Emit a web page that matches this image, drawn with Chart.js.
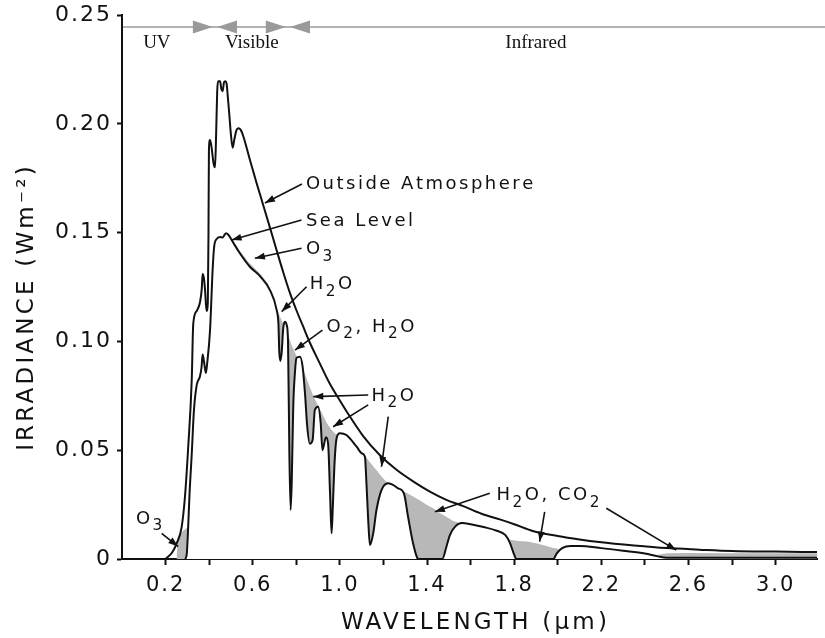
<!DOCTYPE html>
<html><head><meta charset="utf-8">
<script src="https://cdn.jsdelivr.net/npm/chart.js@4.4.1/dist/chart.umd.min.js"></script>
<style>html,body{margin:0;padding:0;background:#fff;overflow:hidden}</style>
</head><body>
<canvas id="c" width="825" height="638"></canvas>
<script>
// ---------- DATA (wavelength in µm, irradiance) ----------
const outsideAtmosphere = [
 [0.20,0.0],[0.23,0.003],[0.251,0.0072],[0.274,0.0148],[0.289,0.0286],[0.304,0.0516],[0.32,0.082],[0.327,0.108],
 [0.343,0.114],[0.358,0.118],[0.366,0.124],[0.370,0.131],[0.376,0.129],[0.381,0.124],[0.388,0.114],[0.394,0.118],
 [0.397,0.15],[0.399,0.188],[0.404,0.1926],[0.41,0.19],[0.42,0.182],[0.427,0.180],[0.432,0.195],[0.437,0.215],
 [0.441,0.2195],[0.45,0.2195],[0.456,0.216],[0.462,0.215],[0.468,0.219],[0.474,0.2195],[0.48,0.2185],[0.486,0.212],
 [0.492,0.205],[0.5,0.195],[0.508,0.189],[0.516,0.193],[0.525,0.197],[0.534,0.198],[0.545,0.1972],[0.556,0.1945],
 [0.587,0.1835],[0.618,0.1727],[0.648,0.1627],[0.679,0.1523],[0.71,0.1418],[0.74,0.1318],[0.771,0.1222],
 [0.801,0.1142],[0.83,0.1072],[0.862,0.0995],[0.9,0.0915],[0.954,0.0805],[1.0,0.0728],[1.031,0.0678],
 [1.107,0.0565],[1.183,0.0478],[1.26,0.041],[1.336,0.0357],[1.413,0.031],[1.489,0.0272],[1.566,0.0243],
 [1.65,0.0208],[1.734,0.0182],[1.8,0.016],[1.885,0.0129],[2.0,0.0106],[2.1,0.009],[2.19,0.0078],[2.35,0.0062],
 [2.5,0.005],[2.65,0.0043],[2.8,0.0037],[3.0,0.0034],[3.19,0.0032]
];
const seaLevel = [
 [0.29,0],[0.297,0.002],[0.303,0.013],[0.31,0.03],[0.32,0.048],[0.33,0.068],[0.343,0.08],[0.358,0.084],[0.365,0.088],
 [0.37,0.094],[0.376,0.091],[0.385,0.0855],[0.391,0.09],[0.404,0.105],[0.416,0.133],[0.423,0.1435],[0.434,0.147],
 [0.45,0.148],[0.462,0.1478],[0.477,0.1497],[0.488,0.149],[0.51,0.1455],[0.541,0.1405],[0.587,0.1343],[0.633,0.13],
 [0.679,0.1236],[0.71,0.1144],[0.718,0.108],[0.722,0.095],[0.727,0.091],[0.733,0.095],[0.74,0.106],[0.748,0.109],
 [0.756,0.1075],[0.762,0.1],[0.768,0.05],[0.774,0.0225],[0.779,0.035],[0.786,0.07],[0.794,0.086],[0.801,0.0924],
 [0.817,0.093],[0.829,0.0884],[0.84,0.076],[0.85,0.061],[0.862,0.053],[0.875,0.0547],[0.885,0.0685],[0.9,0.07],
 [0.912,0.0625],[0.92,0.05],[0.936,0.056],[0.946,0.053],[0.955,0.03],[0.962,0.0118],[0.968,0.025],[0.976,0.045],
 [0.985,0.0555],[1.0,0.0578],[1.03,0.057],[1.077,0.0516],[1.1,0.0486],[1.115,0.047],[1.122,0.0348],[1.13,0.018],
 [1.138,0.0064],[1.153,0.0118],[1.168,0.0225],[1.191,0.0317],[1.222,0.0348],[1.245,0.034],[1.267,0.0325],
 [1.294,0.0302],[1.313,0.0194],[1.336,0.0072],[1.355,0.0005],[1.36,0],[1.47,0],[1.49,0.006],[1.505,0.011],
 [1.53,0.015],[1.56,0.0165],[1.6,0.016],[1.66,0.0147],[1.72,0.013],[1.76,0.011],[1.78,0.0075],[1.80,0.002],
 [1.81,0],[1.98,0],[1.995,0.0025],[2.02,0.005],[2.06,0.006],[2.1,0.006],[2.2,0.005],[2.3,0.0038],[2.4,0.0025],
 [2.46,0.0012],[2.5,0.0006],[3.19,0.0006]
];
// absorption bands (top edge of the shaded areas)
const absorbO3UV  = [[0.25,0],[0.255,0.007],[0.265,0.011],[0.28,0.013],[0.295,0.014],[0.31,0.015],[0.315,0]];
const absorbO3Vis = [[0.52,0],[0.52,0.1435],[0.55,0.1405],[0.58,0.1365],[0.61,0.1335],[0.64,0.1305],[0.67,0.1265],[0.69,0.121],[0.7,0.117],[0.705,0]];
const absorbH2O07 = [[0.712,0],[0.712,0.114],[0.725,0.1115],[0.74,0.108],[0.76,0.1035],[0.78,0.098],[0.80,0.0935],[0.82,0.0905],[0.84,0.085],[0.86,0.0795],[0.88,0.0745],[0.90,0.0705],[0.92,0.0665],[0.94,0.0625],[0.96,0.0595],[0.98,0.0575],[0.99,0.0572],[0.995,0]];
const absorbH2O11 = [[1.112,0],[1.112,0.048],[1.13,0.0455],[1.15,0.043],[1.17,0.0405],[1.19,0.038],[1.21,0.0358],[1.225,0.0348],[1.23,0]];
const absorbH2O14 = [[1.29,0],[1.29,0.031],[1.306,0.0305],[1.34,0.0285],[1.37,0.0268],[1.40,0.0248],[1.43,0.0232],[1.46,0.021],[1.49,0.0193],[1.52,0.0175],[1.55,0.0165],[1.56,0]];
const absorbH2O19 = [[1.76,0],[1.76,0.011],[1.78,0.0088],[1.82,0.0083],[1.86,0.008],[1.9,0.0072],[1.94,0.0062],[1.98,0.005],[2.0,0.0048],[2.01,0]];
const absorbH2O27 = [[2.44,0],[2.44,0.0016],[2.5,0.0026],[2.6,0.0027],[2.8,0.0026],[3.0,0.0026],[3.19,0.0026],[3.19,0]];

const xTickValues = [0.2,0.4,0.6,0.8,1.0,1.2,1.4,1.6,1.8,2.0,2.2,2.4,2.6,2.8,3.0];
const xTickLabels = ['0.2','','0.6','','1.0','','1.4','','1.8','','2.2','','2.6','','3.0'];
const yTickValues = [0,0.05,0.10,0.15,0.20,0.25];
const yTickLabels = ['0','0.05','0.10','0.15','0.20','0.25'];
const xTitle = 'WAVELENGTH (µm)';
const yTitle = 'IRRADIANCE (Wm\u207B\u00B2)';

const regionNames  = ['UV','Visible','Infrared'];
const regionCenter = [0.16,0.596,1.9];
const regionMarkers = [[0.417,'right'],[0.436,'left'],[0.752,'right'],[0.771,'left']];

// ---------- annotation layout (data units) ----------
const annotations = [
 {text:'Outside Atmosphere', at:[0.844,0.1728], arrows:[[0.826,0.1723,0.656,0.1636]]},
 {text:'Sea Level', at:[0.844,0.1558], arrows:[[0.824,0.1558,0.503,0.1466]]},
 {text:'O3', at:[0.844,0.143], arrows:[[0.824,0.1428,0.61,0.1382]]},
 {text:'H2O', at:[0.862,0.127], arrows:[[0.847,0.1251,0.733,0.1137]]},
 {text:'O2, H2O', at:[0.939,0.1075], arrows:[[0.92,0.1052,0.794,0.096]]},
 {text:'H2O', at:[1.145,0.0758], arrows:[[1.13,0.0754,0.878,0.0746],[1.13,0.0708,0.969,0.0608],[1.222,0.0654,1.191,0.0424]]},
 {text:'H2O, CO2', at:[1.719,0.0299], arrows:[[1.688,0.0302,1.436,0.0217],[1.94,0.0217,1.917,0.008],[2.223,0.0233,2.544,0.0041]]},
 {text:'O3', at:[0.064,0.0191], arrows:[[0.182,0.0118,0.258,0.0057]]}
];
const regionLineY = 0.2445, regionLabelY = 0.2371;

const INK = '#111';
const SANS = '"DejaVu Sans", "Liberation Sans", sans-serif';
const toXY = arr => arr.map(([x,y]) => ({x, y}));

function drawRich(ctx, text, x, yc, size, spacing){
  let cx = x;
  for (const ch of text){
    const sub = /[0-9]/.test(ch);
    const fs = sub ? size*0.85 : size;
    ctx.font = fs + 'px ' + SANS;
    const base = yc + 0.36*size + (sub ? 0.36*size : 0);
    ctx.fillText(ch, cx, base);
    cx += ctx.measureText(ch).width + spacing;
  }
}
function arrow(ctx, x1, y1, x2, y2){
  ctx.beginPath(); ctx.moveTo(x1,y1); ctx.lineTo(x2,y2); ctx.stroke();
  const a = Math.atan2(y2-y1, x2-x1), L = 10, W = 3.5;
  ctx.beginPath(); ctx.moveTo(x2,y2);
  ctx.lineTo(x2 - L*Math.cos(a) + W*Math.sin(a), y2 - L*Math.sin(a) - W*Math.cos(a));
  ctx.lineTo(x2 - L*Math.cos(a) - W*Math.sin(a), y2 - L*Math.sin(a) + W*Math.cos(a));
  ctx.closePath(); ctx.fill();
}

const decor = {
  id: 'decor',
  beforeDraw(chart){ chart.ctx.letterSpacing = '2px'; },
  afterDraw(chart){
    const {ctx, scales:{x, y}, chartArea} = chart;
    ctx.save();
    // axis titles
    ctx.fillStyle = INK;
    ctx.font = '23px ' + SANS;
    ctx.textAlign = 'center'; ctx.textBaseline = 'middle';
    ctx.letterSpacing = '3.2px';
    ctx.fillText(xTitle, (chartArea.left + chartArea.right)/2 + 6, 623);
    ctx.save();
    ctx.translate(27, (chartArea.top + chartArea.bottom)/2 + 20);
    ctx.rotate(-Math.PI/2);
    ctx.letterSpacing = '3.2px';
    ctx.fillText(yTitle, 0, 0);
    ctx.restore();
    ctx.letterSpacing = '0px';
    // region band
    const ly = y.getPixelForValue(regionLineY);
    ctx.strokeStyle = '#9a9a9a'; ctx.lineWidth = 1.5;
    ctx.beginPath(); ctx.moveTo(chartArea.left+1, ly); ctx.lineTo(chart.width, ly); ctx.stroke();
    ctx.fillStyle = '#9a9a9a';
    regionMarkers.forEach(([wl, dir]) => {
      const tx = x.getPixelForValue(wl), w = 20, h = 13;
      const bx = dir === 'right' ? tx - w : tx + w;
      ctx.beginPath(); ctx.moveTo(tx, ly); ctx.lineTo(bx, ly - h/2); ctx.lineTo(bx, ly + h/2); ctx.closePath(); ctx.fill();
    });
    ctx.fillStyle = INK;
    ctx.font = '19px "Liberation Serif", "Times New Roman", serif';
    ctx.textAlign = 'center'; ctx.textBaseline = 'middle';
    regionNames.forEach((n, i) => ctx.fillText(n, x.getPixelForValue(regionCenter[i]), y.getPixelForValue(regionLabelY)));
    // annotations
    ctx.textAlign = 'left'; ctx.textBaseline = 'alphabetic';
    ctx.strokeStyle = INK; ctx.fillStyle = INK; ctx.lineWidth = 1.6;
    annotations.forEach(a => {
      drawRich(ctx, a.text, x.getPixelForValue(a.at[0]), y.getPixelForValue(a.at[1]), 18, 2.5);
      a.arrows.forEach(([x1,y1,x2,y2]) => arrow(ctx, x.getPixelForValue(x1), y.getPixelForValue(y1), x.getPixelForValue(x2), y.getPixelForValue(y2)));
    });
    ctx.restore();
  }
};

const bandStyle = data => ({data: toXY(data), borderColor:'rgba(0,0,0,0)', borderWidth:1, backgroundColor:'#b8b8b8',
  fill:'origin', pointRadius:0, tension:0, order:3});

new Chart(document.getElementById('c'), {
  type: 'line',
  data: { datasets: [
    {label:'Outside Atmosphere', data: toXY(outsideAtmosphere), borderColor: INK, borderWidth: 2, pointRadius: 0,
     fill: false, cubicInterpolationMode: 'monotone', order: 1},
    {label:'Sea Level', data: toXY(seaLevel), borderColor: INK, borderWidth: 2, pointRadius: 0,
     fill: 'origin', backgroundColor: '#ffffff', cubicInterpolationMode: 'monotone', order: 2},
    bandStyle(absorbO3UV), bandStyle(absorbO3Vis), bandStyle(absorbH2O07), bandStyle(absorbH2O11),
    bandStyle(absorbH2O14), bandStyle(absorbH2O19), bandStyle(absorbH2O27)
  ]},
  options: {
    responsive: false, animation: false, devicePixelRatio: 1,
    layout: { padding: {top: 15, right: 8, left: 0, bottom: 0} },
    plugins: { legend: {display: false}, tooltip: {enabled: false} },
    events: [],
    scales: {
      x: {
        type: 'linear', min: 0, max: 3.19, z: 1,
        afterBuildTicks: s => { s.ticks = xTickValues.map(v => ({value: v})); },
        afterFit: s => { s.height = 79; s.paddingLeft = 0; s.paddingRight = 0; },
        ticks: { callback: (v, i) => xTickLabels[i], font: {family: SANS, size: 21}, color: INK, padding: 8,
                 maxRotation: 0, autoSkip: false },
        grid: { drawOnChartArea: false, drawTicks: true, tickLength: 6, tickWidth: 2, tickColor: INK },
        border: { display: true, color: INK, width: 2 },
        title: { display: false }
      },
      y: {
        type: 'linear', min: 0, max: 0.25, z: 1,
        afterBuildTicks: s => { s.ticks = yTickValues.map(v => ({value: v})); },
        afterFit: s => { s.width = 122; s.paddingTop = 0; s.paddingBottom = 0; },
        ticks: { callback: (v, i) => yTickLabels[i], font: {family: SANS, size: 22}, color: INK, padding: 5 },
        grid: { drawOnChartArea: false, drawTicks: true, tickLength: 5, tickWidth: 2, tickColor: INK },
        border: { display: true, color: INK, width: 2 },
        title: { display: false }
      }
    }
  },
  plugins: [decor]
});
</script>
</body></html>
